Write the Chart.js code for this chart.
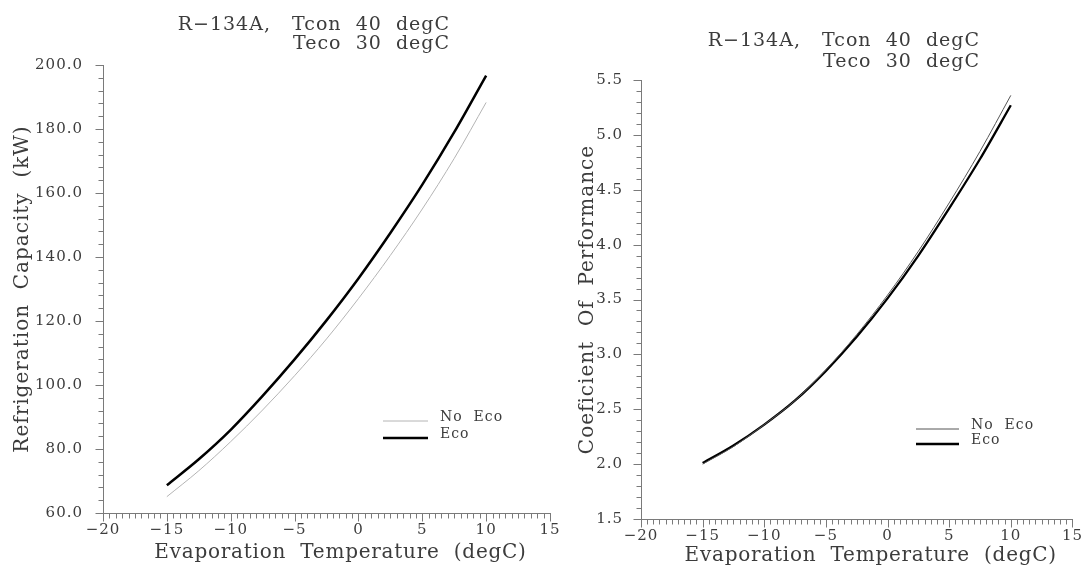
<!DOCTYPE html>
<html><head><meta charset="utf-8">
<script src="https://cdn.jsdelivr.net/npm/chart.js@4.4.1/dist/chart.umd.min.js"></script>
<style>
html,body{margin:0;padding:0;background:#fff;overflow:hidden}
#wrap{position:relative;width:1091px;height:566px;background:#fff}
canvas{position:absolute;top:0}
#c1{left:0}
#c2{left:570px}
</style></head><body>
<div id="wrap">
<canvas id="c1" width="570" height="566"></canvas>
<canvas id="c2" width="521" height="566"></canvas>
</div>
<script>
// ---------- data ----------
const temps    = [-15, -12.5, -10, -7.5, -5, -2.5, 0, 2.5, 5, 7.5, 10];
const capNoEco = [65.1, 73.2, 82.3, 92.2, 102.9, 114.4, 127.0, 140.5, 155.0, 170.8, 188.3];
const capEco   = [68.7, 76.8, 86.0, 96.6, 108.0, 120.2, 133.3, 147.5, 162.6, 179.0, 196.7];
const copNoEco = [2.00, 2.16, 2.36, 2.58, 2.86, 3.18, 3.54, 3.94, 4.38, 4.85, 5.36];
const copEco   = [2.01, 2.17, 2.36, 2.58, 2.85, 3.16, 3.51, 3.90, 4.33, 4.78, 5.27];
const xTicks   = [-20, -15, -10, -5, 0, 5, 10, 15];
const capTicks = [60, 80, 100, 120, 140, 160, 180, 200];
const copTicks = [1.5, 2.0, 2.5, 3.0, 3.5, 4.0, 4.5, 5.0, 5.5];
const seriesNames = ['No Eco', 'Eco'];
const titleLine1 = 'R\u2212134A,   Tcon  40  degC';
const titleLine2 = 'Teco  30  degC';
const xTitle = 'Evaporation  Temperature  (degC)';
const capTitle = 'Refrigeration  Capacity  (kW)';
const copTitle = 'Coeficient  Of  Performance';

const FONT = "'DejaVu Serif', serif";
const TXT = '#3c3c3c';
const AX = '#7a7a7a';

function pts(xs, ys){ return xs.map((x,i)=>({x:x, y:ys[i]})); }
function fmtX(v){ return v < 0 ? '\u2212' + Math.abs(v) : String(v); }

// decorations: letter spacing, titles, x-axis title, legend, tick marks
const decor = {
  id: 'decor',
  beforeLayout(chart){ chart.ctx.letterSpacing = '1px'; },
  beforeDraw(chart){ chart.ctx.letterSpacing = '1px'; },
  afterDraw(chart, args, o){
    const ctx = chart.ctx;
    const xs = chart.scales.x, ys = chart.scales.y;
    ctx.save();
    // tick marks
    ctx.strokeStyle = AX; ctx.lineWidth = 1;
    ctx.beginPath();
    const bottom = Math.round(ys.bottom) + 0.5;
    for (let v = xs.min; v <= xs.max + 1e-9; v += o.xMinor){
      const px = Math.round(xs.getPixelForValue(v)) + 0.5;
      const major = Math.abs(v/5 - Math.round(v/5)) < 1e-6;
      ctx.moveTo(px, bottom); ctx.lineTo(px, bottom + (major ? 8 : 5));
    }
    const left = Math.round(xs.left) + 0.5;
    const n = Math.round((ys.max - ys.min)/o.yMinor);
    for (let i = 0; i <= n; i++){
      const v = ys.min + i*o.yMinor;
      const py = Math.round(ys.getPixelForValue(v)) + 0.5;
      const major = (i % 5) === 0;
      ctx.moveTo(left, py); ctx.lineTo(left - (major ? 8 : 5), py);
    }
    ctx.stroke();
    ctx.fillStyle = TXT;
    // chart title
    ctx.letterSpacing = '1px';
    ctx.font = '19px ' + FONT;
    ctx.textAlign = 'right'; ctx.textBaseline = 'middle';
    ctx.fillText(titleLine1, o.titleX, o.titleY1);
    ctx.fillText(titleLine2, o.titleX, o.titleY2);
    // x-axis title
    ctx.letterSpacing = '0.75px';
    ctx.font = '20px ' + FONT;
    ctx.textAlign = 'center';
    ctx.fillText(xTitle, (xs.left + xs.right)/2 + o.xTitleShift, o.xTitleY);
    // legend
    ctx.letterSpacing = '1px';
    const lg = o.legend;
    chart.data.datasets.forEach((ds) => {
      const idx = seriesNames.indexOf(ds.label);
      const ly = lg.y + idx*lg.gap;
      ctx.strokeStyle = ds.borderColor; ctx.lineWidth = ds.borderWidth;
      ctx.beginPath(); ctx.moveTo(lg.x, ly); ctx.lineTo(lg.x + lg.len, ly); ctx.stroke();
      ctx.fillStyle = TXT; ctx.font = '14px ' + FONT; ctx.textAlign = 'left';
      ctx.fillText(ds.label.replace(' ', '  '), lg.x + lg.len + 12, ly - 4);
    });
    ctx.restore();
  }
};

function makeChart(id, cfg){
  return new Chart(document.getElementById(id), {
    type: 'line',
    data: { datasets: cfg.datasets },
    options: {
      responsive: false, animation: false, devicePixelRatio: 1,
      layout: { padding: { top: cfg.top, right: cfg.right, bottom: 0, left: 0 } },
      elements: { point: { radius: 0 }, line: { cubicInterpolationMode: 'monotone' } },
      plugins: { legend: { display: false }, tooltip: { enabled: false }, decor: cfg.decor },
      scales: {
        x: {
          type: 'linear', min: -20, max: 15,
          afterBuildTicks: s => { s.ticks = xTicks.map(v => ({ value: v })); },
          ticks: { callback: v => fmtX(v), font: { family: FONT, size: 15 }, color: TXT, padding: cfg.xPad, maxRotation: 0, autoSkip: false },
          grid: { display: false, drawTicks: false },
          border: { display: true, color: AX, width: 1 },
          title: { display: false },
          afterFit: s => { s.height = cfg.xHeight; }
        },
        y: {
          min: cfg.yMin, max: cfg.yMax,
          afterBuildTicks: s => { s.ticks = cfg.yTicks.map(v => ({ value: v })); },
          ticks: { callback: v => Number(v).toFixed(1), font: { family: FONT, size: 15 }, color: TXT, padding: cfg.yPad, autoSkip: false },
          grid: { display: false, drawTicks: false },
          border: { display: true, color: AX, width: 1 },
          title: { display: true, text: cfg.yTitle, color: TXT, font: { family: FONT, size: 20, lineHeight: 1 }, padding: { top: cfg.yTitlePad, bottom: 0 } },
          afterFit: s => { s.width = cfg.yWidth; }
        }
      }
    },
    plugins: [decor]
  });
}

makeChart('c1', {
  datasets: [
    { label: seriesNames[0], data: pts(temps, capNoEco), borderColor: '#b4b4b4', borderWidth: 1, fill: false },
    { label: seriesNames[1], data: pts(temps, capEco), borderColor: '#000000', borderWidth: 2.5, fill: false }
  ],
  top: 65, right: 20, xHeight: 53, yWidth: 103, xPad: 8, yPad: 20, yTitlePad: 13,
  yMin: 60, yMax: 200, yTicks: capTicks, yTitle: capTitle,
  decor: { xMinor: 0.5, yMinor: 4, titleX: 450, titleY1: 25, titleY2: 44, xTitleShift: 14, xTitleY: 553,
           legend: { x: 383, y: 421, gap: 17, len: 45 } }
});

makeChart('c2', {
  datasets: [
    { label: seriesNames[0], data: pts(temps, copNoEco), borderColor: '#555555', borderWidth: 1, fill: false },
    { label: seriesNames[1], data: pts(temps, copEco), borderColor: '#000000', borderWidth: 2.3, fill: false }
  ],
  top: 80, right: 11, xHeight: 47, yWidth: 71, xPad: 8, yPad: 18, yTitlePad: 8,
  yMin: 1.5, yMax: 5.5, yTicks: copTicks, yTitle: copTitle,
  decor: { xMinor: 0.5, yMinor: 0.1, titleX: 410, titleY1: 41, titleY2: 62, xTitleShift: 14, xTitleY: 556,
           legend: { x: 346, y: 429, gap: 15, len: 43 } }
});
</script>
</body></html>
